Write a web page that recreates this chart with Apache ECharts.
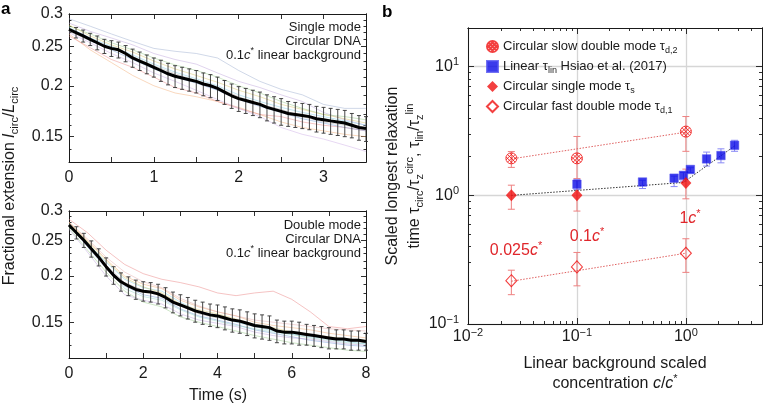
<!DOCTYPE html>
<html><head><meta charset="utf-8">
<script src="https://cdn.jsdelivr.net/npm/echarts@6/dist/echarts.min.js"></script>
<style>html,body{margin:0;padding:0;background:#fff}#c{width:763px;height:405px}</style>
</head><body><div id="c"></div>
<script>
// ================= DATA =================
// ---- Panel a (top): single mode, circular DNA, 0.1c* background ----
const aTopTrajT = [0,0.25,0.5,0.75,1,1.25,1.5,1.75,2,2.25,2.5,2.75,3,3.25,3.5];
const aTopTraj1 = [0.292,0.280,0.268,0.257,0.247,0.243,0.240,0.234,0.218,0.205,0.196,0.190,0.180,0.176,0.176];
const aTopTraj2 = [0.285,0.272,0.262,0.252,0.240,0.232,0.226,0.215,0.205,0.198,0.190,0.183,0.172,0.165,0.160];
const aTopTraj3 = [0.280,0.268,0.255,0.245,0.234,0.225,0.218,0.210,0.200,0.192,0.183,0.176,0.170,0.168,0.165];
const aTopTraj4 = [0.268,0.245,0.228,0.212,0.200,0.192,0.188,0.183,0.177,0.170,0.163,0.158,0.155,0.152,0.150];
const aTopTraj5 = [0.265,0.248,0.232,0.222,0.210,0.198,0.192,0.183,0.176,0.170,0.168,0.163,0.160,0.158,0.155];
const aTopTraj6 = [0.275,0.258,0.245,0.232,0.220,0.210,0.203,0.195,0.185,0.178,0.172,0.166,0.162,0.158,0.155];
const aTopTraj7 = [0.270,0.255,0.240,0.228,0.215,0.205,0.195,0.185,0.176,0.168,0.158,0.152,0.148,0.143,0.138];
const aTopTraj8 = [0.278,0.262,0.250,0.238,0.226,0.216,0.208,0.200,0.190,0.183,0.177,0.172,0.168,0.164,0.160];
const aTopTraj9 = [0.282,0.265,0.252,0.242,0.230,0.220,0.212,0.204,0.195,0.188,0.180,0.175,0.170,0.166,0.162];
const aTopTraj10 = [0.272,0.258,0.247,0.236,0.224,0.214,0.206,0.198,0.188,0.180,0.175,0.168,0.163,0.160,0.157];
const aTopMeanT = [0,0.083,0.167,0.25,0.333,0.417,0.5,0.583,0.667,0.75,0.833,0.917,1,1.083,1.167,1.25,1.333,1.417,1.5,1.583,1.667,1.75,1.833,1.917,2,2.083,2.167,2.25,2.333,2.417,2.5,2.583,2.667,2.75,2.833,2.917,3,3.083,3.167,3.25,3.333,3.417,3.5];
const aTopMean = [0.275,0.270,0.265,0.260,0.255,0.250,0.247,0.245,0.240,0.234,0.230,0.226,0.222,0.218,0.214,0.211,0.209,0.207,0.205,0.202,0.200,0.197,0.193,0.189,0.186,0.184,0.182,0.180,0.177,0.175,0.173,0.171,0.170,0.169,0.168,0.166,0.165,0.164,0.163,0.162,0.160,0.158,0.157];
const aTopErr = [0,0.008,0.009,0.009,0.010,0.010,0.011,0.011,0.011,0.012,0.012,0.012,0.012,
  0.013,0.013,0.013,0.013,0.013,0.013,0.013,0.013,0.013,0.013,0.013,0.013,0.013,0.013,0.013,0.013,0.013,0.013,
  0.012,0.012,0.012,0.012,0.012,0.012,0.012,0.012,0.012,0.011,0.011,0.011];
const aTopXTicks = [0,0.5,1,1.5,2,2.5,3,3.5];
const aTopXLabels = [0,1,2,3];
const aTopYLabels = [0.15,0.2,0.25,0.3];
const aTopYMinor = [0.13,0.14,0.16,0.17,0.18,0.19,0.21,0.22,0.23,0.24,0.26,0.27,0.28,0.29];
const aTopNote = ['Single mode','Circular DNA','0.1{i|c}{sup|*} linear background'];

// ---- Panel a (bottom): double mode ----
const aBotTrajT = [0,0.5,1,1.5,2,2.5,3,3.5,4,4.5,5,5.5,6,6.5,7,7.5,8];
const aBotTraj1 = [0.285,0.262,0.235,0.215,0.203,0.196,0.192,0.187,0.180,0.177,0.180,0.182,0.173,0.160,0.146,0.144,0.146];
const aBotTraj2 = [0.280,0.250,0.222,0.200,0.190,0.185,0.172,0.165,0.160,0.156,0.150,0.147,0.145,0.143,0.140,0.138,0.136];
const aBotTraj3 = [0.270,0.235,0.205,0.182,0.170,0.165,0.155,0.150,0.146,0.142,0.138,0.135,0.132,0.130,0.128,0.126,0.125];
const aBotTraj4 = [0.275,0.240,0.210,0.188,0.178,0.174,0.163,0.156,0.152,0.148,0.143,0.140,0.137,0.134,0.132,0.130,0.129];
const aBotTraj5 = [0.272,0.245,0.218,0.196,0.186,0.182,0.170,0.160,0.155,0.150,0.146,0.142,0.139,0.137,0.135,0.133,0.131];
const aBotTraj6 = [0.268,0.232,0.200,0.178,0.172,0.168,0.158,0.152,0.149,0.146,0.141,0.138,0.136,0.135,0.133,0.131,0.130];
const aBotTraj7 = [0.278,0.248,0.220,0.198,0.187,0.180,0.168,0.162,0.158,0.153,0.148,0.145,0.141,0.139,0.137,0.135,0.134];
const aBotTraj8 = [0.274,0.242,0.214,0.192,0.183,0.178,0.166,0.158,0.154,0.151,0.146,0.143,0.140,0.138,0.136,0.134,0.132];
const aBotTraj9 = [0.276,0.246,0.212,0.185,0.176,0.172,0.162,0.155,0.151,0.147,0.144,0.141,0.139,0.136,0.134,0.132,0.131];
const aBotTraj10 = [0.280,0.252,0.225,0.205,0.193,0.186,0.174,0.166,0.160,0.156,0.152,0.150,0.148,0.146,0.144,0.143,0.142];
const aBotMeanT = [0,0.2,0.4,0.6,0.8,1,1.2,1.4,1.6,1.8,2,2.2,2.4,2.6,2.8,3,3.2,3.4,3.6,3.8,4,4.2,4.4,4.6,4.8,5,5.2,5.4,5.6,5.8,6,6.2,6.4,6.6,6.8,7,7.2,7.4,7.6,7.8,8];
const aBotMean = [0.275,0.262,0.250,0.237,0.225,0.212,0.201,0.193,0.188,0.184,0.182,0.181,0.179,0.175,0.170,0.167,0.164,0.161,0.159,0.157,0.156,0.154,0.152,0.151,0.149,0.147,0.146,0.145,0.142,0.141,0.141,0.140,0.139,0.138,0.137,0.136,0.135,0.135,0.134,0.134,0.133];
const aBotErr = [0,0.010,0.011,0.012,0.012,0.012,
  0.011,0.011,0.011,0.011,0.011,0.011,0.011,0.011,0.011,0.011,0.011,0.011,0.011,0.011,0.011,0.011,0.011,0.011,0.011,0.011,0.011,0.011,
  0.010,0.010,0.010,0.010,0.009,0.009,0.009,0.009,0.008,0.008,0.008,0.008,0.007];
const aBotXTicks = [0,1,2,3,4,5,6,7,8];
const aBotXLabels = [0,2,4,6,8];
const aBotYLabels = [0.15,0.2,0.25,0.3];
const aBotYMinor = [0.12,0.13,0.14,0.16,0.17,0.18,0.19,0.21,0.22,0.23,0.24,0.26,0.27,0.28,0.29];
const aBotNote = ['Double mode','Circular DNA','0.1{i|c}{sup|*} linear background'];

// ---- Panel b ----
const slowX = [0.025,0.1,1];
const slowY = [1.94,1.94,3.13];
const slowLo = [1.65,1.35,2.2];
const slowHi = [2.19,2.87,4.1];
const linX = [0.1,0.4,0.78,0.95,1.1,1.55,2.1,2.8];
const linY = [1.22,1.27,1.36,1.43,1.59,1.92,2.04,2.45];
const linLo = [1.11,1.13,1.17,1.29,1.50,1.69,1.79,2.20];
const linHi = [1.33,1.31,1.41,1.51,1.64,2.17,2.30,2.68];
const singleX = [0.025,0.1,1];
const singleY = [1.0,1.0,1.25];
const singleLo = [0.78,0.755,0.94];
const singleHi = [1.2,1.3,1.6];
const fastX = [0.025,0.1,1];
const fastY = [0.217,0.278,0.355];
const fastLo = [0.169,0.198,0.252];
const fastHi = [0.262,0.36,0.46];
const slowFitX = [0.025,1];
const slowFitY = [1.92,3.1];
const fastFitX = [0.025,1];
const fastFitY = [0.215,0.355];
const linFitX = [0.025,0.95,2.8];
const linFitY = [1.0,1.26,2.42];
const bXLabels = [0.01,0.1,1];
const bXMinor = [0.02,0.03,0.04,0.05,0.06,0.07,0.08,0.09,0.2,0.3,0.4,0.5,0.6,0.7,0.8,0.9,2,3,4];
const bYLabels = [0.1,1,10];
const bYMinor = [0.2,0.3,0.4,0.5,0.6,0.7,0.8,0.9,2,3,4,5,6,7,8,9,20];
const legendNames = ['Circular slow double mode','Linear','Circular single mode','Circular fast double mode'];
const legendTexts = ['Circular slow double mode τ{sub|d,2}','Linear τ{sub|lin} Hsiao et al. (2017)','Circular single mode τ{sub|s}','Circular fast double mode τ{sub|d,1}'];
const concTexts = ['0.025{i|c}{sup|*}','0.1{i|c}{sup|*}','1{i|c}{sup|*}'];

// ================= STYLE / BUILD =================
const FONT = '"Liberation Sans", Arial, Helvetica, sans-serif';
const INK = '#1a1a1a';
const RED = '#f01010';
const RED_TXT = '#e0262b';
const RED_ERR = '#ee8080';
const BLUE = '#0a0ae6';
const BLUE_ERR = '#8a8af5';
const trajColors = ['#9fb0d0','#c0a8dc','#9ccc8c','#f2b07a','#eb8a8a','#7aa2dc','#cfb0e6','#86d0e6','#dccb70','#b0b0b0'];
const botColors = ['#eb8585','#f2b07a','#9ccc8c','#7aa2dc','#86d0e6','#c0a8dc','#dccb70','#b0b0b0','#9ad6cc','#e6b0b0'];

const xAxes = [], yAxes = [];
function addAxis(list, cfg) { list.push(cfg); return list.length - 1; }
function edgeAxis(grid, type, min, max, position, ticks, len, label, split) {
  const cfg = {
    gridIndex: grid, type: type, min: min, max: max, position: position,
    axisLine: {show: true, onZero: false, lineStyle: {color: INK, width: 1}},
    axisTick: {show: true, inside: true, length: len, customValues: ticks, lineStyle: {color: INK, width: 0.9}},
    axisLabel: label ? Object.assign({show: true, color: INK, fontFamily: FONT, fontSize: 16}, label) : {show: false},
    splitLine: split ? split : {show: false},
    minorTick: {show: false}, minorSplitLine: {show: false},
    axisPointer: {show: false}
  };
  if (type === 'log') cfg.logBase = 10;
  return cfg;
}
const fmtA = v => String(Math.round(v * 100) / 100);
const supExp = v => { const e = Math.round(Math.log10(v)); return '10{sup|' + (e < 0 ? '−' + (-e) : String(e)) + '}'; };
const richSup = {sup: {fontSize: 11, fontFamily: FONT, color: INK, padding: [0, 0, 9, 0], lineHeight: 11}};

// panel a top (grid 0)
const a0x = addAxis(xAxes, edgeAxis(0, 'value', 0, 3.5, 'bottom', aTopXTicks, 5, {customValues: aTopXLabels, margin: 8}));
addAxis(xAxes, edgeAxis(0, 'value', 0, 3.5, 'top', aTopXTicks, 5, null));
const a0y = addAxis(yAxes, edgeAxis(0, 'log', 0.13, 0.3, 'left', aTopYLabels, 5, {customValues: aTopYLabels, formatter: fmtA, margin: 6}));
addAxis(yAxes, edgeAxis(0, 'log', 0.13, 0.3, 'left', aTopYMinor, 2.5, null));
addAxis(yAxes, edgeAxis(0, 'log', 0.13, 0.3, 'right', aTopYLabels, 5, null));
addAxis(yAxes, edgeAxis(0, 'log', 0.13, 0.3, 'right', aTopYMinor, 2.5, null));
// panel a bottom (grid 1)
const a1x = addAxis(xAxes, edgeAxis(1, 'value', 0, 8, 'bottom', aBotXTicks, 5, {customValues: aBotXLabels, margin: 8}));
addAxis(xAxes, edgeAxis(1, 'value', 0, 8, 'top', aBotXTicks, 5, null));
const a1y = addAxis(yAxes, edgeAxis(1, 'log', 0.12, 0.3, 'left', aBotYLabels, 5, {customValues: aBotYLabels, formatter: fmtA, margin: 6}));
addAxis(yAxes, edgeAxis(1, 'log', 0.12, 0.3, 'left', aBotYMinor, 2.5, null));
addAxis(yAxes, edgeAxis(1, 'log', 0.12, 0.3, 'right', aBotYLabels, 5, null));
addAxis(yAxes, edgeAxis(1, 'log', 0.12, 0.3, 'right', aBotYMinor, 2.5, null));
// panel b (grid 2)
const gridLine = {show: true, lineStyle: {color: '#d6d6d6', width: 1.3}};
const bx = addAxis(xAxes, edgeAxis(2, 'log', 0.01, 5, 'bottom', bXLabels, 6, {customValues: bXLabels, formatter: supExp, rich: richSup, margin: 5}, gridLine));
addAxis(xAxes, edgeAxis(2, 'log', 0.01, 5, 'bottom', bXMinor, 3, null));
addAxis(xAxes, edgeAxis(2, 'log', 0.01, 5, 'top', bXLabels, 6, null));
addAxis(xAxes, edgeAxis(2, 'log', 0.01, 5, 'top', bXMinor, 3, null));
const by = addAxis(yAxes, edgeAxis(2, 'log', 0.1, 20, 'left', bYLabels, 6, {customValues: bYLabels, formatter: supExp, rich: richSup, margin: 9}, gridLine));
addAxis(yAxes, edgeAxis(2, 'log', 0.1, 20, 'left', bYMinor, 3, null));
addAxis(yAxes, edgeAxis(2, 'log', 0.1, 20, 'right', bYLabels, 6, null));
addAxis(yAxes, edgeAxis(2, 'log', 0.1, 20, 'right', bYMinor, 3, null));

function zip(xs, ys) { const n = Math.min(xs.length, ys.length); const out = []; for (let i = 0; i < n; i++) out.push([xs[i], ys[i]]); return out; }
function errRender(cap, color, lw) {
  return function (params, api) {
    const x = api.value(0), lo = api.value(1), hi = api.value(2);
    if (!(hi > lo)) return null;
    const p1 = api.coord([x, lo]), p2 = api.coord([x, hi]);
    const st = {stroke: color, lineWidth: lw, fill: null};
    return {type: 'group', children: [
      {type: 'line', shape: {x1: p1[0], y1: p1[1], x2: p2[0], y2: p2[1]}, style: st},
      {type: 'line', shape: {x1: p1[0] - cap, y1: p1[1], x2: p1[0] + cap, y2: p1[1]}, style: st},
      {type: 'line', shape: {x1: p2[0] - cap, y1: p2[1], x2: p2[0] + cap, y2: p2[1]}, style: st}
    ]};
  };
}
function errSeries(xi, yi, data, cap, color, lw, z) {
  return {type: 'custom', xAxisIndex: xi, yAxisIndex: yi, renderItem: errRender(cap, color, lw), data: data,
    encode: {x: 0, y: [1, 2]}, silent: true, z: z, clip: false};
}
function meanErrData(ts, ms, es) { const out = []; const n = Math.min(ts.length, ms.length, es.length);
  for (let i = 0; i < n; i++) out.push([ts[i], ms[i] - es[i], ms[i] + es[i]]); return out; }
function loHiData(xs, lo, hi) { const out = []; for (let i = 0; i < xs.length; i++) out.push([xs[i], lo[i], hi[i]]); return out; }

const series = [];
const topTrajs = [aTopTraj1,aTopTraj2,aTopTraj3,aTopTraj4,aTopTraj5,aTopTraj6,aTopTraj7,aTopTraj8,aTopTraj9,aTopTraj10];
const botTrajs = [aBotTraj1,aBotTraj2,aBotTraj3,aBotTraj4,aBotTraj5,aBotTraj6,aBotTraj7,aBotTraj8,aBotTraj9,aBotTraj10];
topTrajs.forEach((tr, i) => series.push({type: 'line', xAxisIndex: a0x, yAxisIndex: a0y, data: zip(aTopTrajT, tr),
  showSymbol: false, symbol: 'none', silent: true, lineStyle: {color: trajColors[i], width: 0.7, opacity: 0.7}, z: 1}));
botTrajs.forEach((tr, i) => series.push({type: 'line', xAxisIndex: a1x, yAxisIndex: a1y, data: zip(aBotTrajT, tr),
  showSymbol: false, symbol: 'none', silent: true, lineStyle: {color: botColors[i], width: 0.7, opacity: 0.7}, z: 1}));
series.push(errSeries(a0x, a0y, meanErrData(aTopMeanT, aTopMean, aTopErr), 2, '#333', 0.9, 2));
series.push(errSeries(a1x, a1y, meanErrData(aBotMeanT, aBotMean, aBotErr), 2, '#333', 0.9, 2));
series.push({type: 'line', xAxisIndex: a0x, yAxisIndex: a0y, data: zip(aTopMeanT, aTopMean), showSymbol: false, symbol: 'none',
  silent: true, lineStyle: {color: '#000', width: 3}, z: 3});
series.push({type: 'line', xAxisIndex: a1x, yAxisIndex: a1y, data: zip(aBotMeanT, aBotMean), showSymbol: false, symbol: 'none',
  silent: true, lineStyle: {color: '#000', width: 3}, z: 3});

// panel b
series.push(errSeries(bx, by, loHiData(slowX, slowLo, slowHi), 3.5, RED_ERR, 1, 2));
series.push(errSeries(bx, by, loHiData(singleX, singleLo, singleHi), 3.5, RED_ERR, 1, 2));
series.push(errSeries(bx, by, loHiData(fastX, fastLo, fastHi), 3.5, RED_ERR, 1, 2));
series.push(errSeries(bx, by, loHiData(linX, linLo, linHi), 3.5, BLUE_ERR, 1, 2));
const fitLine = (xs, ys, c) => ({type: 'line', xAxisIndex: bx, yAxisIndex: by, data: zip(xs, ys), showSymbol: false, symbol: 'none',
  silent: true, lineStyle: {color: c, width: 1, type: [1.5, 1.5]}, z: 3});
series.push(fitLine(slowFitX, slowFitY, '#e06060'));
series.push(fitLine(fastFitX, fastFitY, '#e06060'));
series.push(fitLine(linFitX, linFitY, '#333'));
const crossCircle = 'path://M-1,0A1,1 0 1,0 1,0A1,1 0 1,0 -1,0Z' +
  'M-0.707,-0.707L0.707,0.707M-0.707,0.707L0.707,-0.707' +
  'M0.964,0.264L-0.264,-0.964M0.264,0.964L-0.964,-0.264' +
  'M0.964,-0.264L-0.264,0.964M0.264,-0.964L-0.964,0.264';
series.push({name: legendNames[0], type: 'scatter', xAxisIndex: bx, yAxisIndex: by, data: zip(slowX, slowY),
  symbol: crossCircle, symbolSize: 11, itemStyle: {color: 'rgba(255,255,255,0)', borderColor: RED, borderWidth: 1}, z: 5});
series.push({name: legendNames[1], type: 'scatter', xAxisIndex: bx, yAxisIndex: by, data: zip(linX, linY),
  symbol: 'rect', symbolSize: 8.5, itemStyle: {color: BLUE, borderColor: '#5050f0', borderWidth: 0.6}, z: 5});
series.push({name: legendNames[2], type: 'scatter', xAxisIndex: bx, yAxisIndex: by, data: zip(singleX, singleY),
  symbol: 'diamond', symbolSize: [11, 12], itemStyle: {color: RED}, z: 5});
series.push({name: legendNames[3], type: 'scatter', xAxisIndex: bx, yAxisIndex: by, data: zip(fastX, fastY),
  symbol: 'diamond', symbolSize: [11, 12], itemStyle: {color: 'rgba(255,255,255,0)', borderColor: RED, borderWidth: 1.1}, z: 5});

// ---------- texts ----------
const richG = (size, color) => ({
  i: {fontStyle: 'italic', fontSize: size, fontFamily: FONT, fill: color},
  sub: {fontSize: Math.round(size * 0.68), fontFamily: FONT, fill: color, padding: [Math.round(size * 0.6), 0, 0, 0], lineHeight: Math.round(size * 0.7)},
  sup: {fontSize: Math.round(size * 0.68), fontFamily: FONT, fill: color, padding: [0, 0, Math.round(size * 0.6), 0], lineHeight: Math.round(size * 0.7)}
});
function txt(text, x, y, size, color, align, extra) {
  return Object.assign({type: 'text', x: x, y: y, silent: true, z: 50,
    style: {text: text, fontSize: size, fontFamily: FONT, fill: color, align: align, textAlign: align,
      verticalAlign: 'middle', textVerticalAlign: 'middle', rich: richG(size, color)}}, extra || {});
}
const graphics = [];
graphics.push(txt('a', 1, 9, 17, '#000', 'left', {style: {text: 'a', fontSize: 17, fontWeight: 'bold', fontFamily: FONT, fill: '#000', verticalAlign: 'middle', textVerticalAlign: 'middle'}}));
graphics.push(txt('b', 382, 12, 17, '#000', 'left', {style: {text: 'b', fontSize: 17, fontWeight: 'bold', fontFamily: FONT, fill: '#000', verticalAlign: 'middle', textVerticalAlign: 'middle'}}));
const noteYTop = [27, 41, 55], noteYBot = [225, 239, 253];
aTopNote.forEach((t, i) => graphics.push(txt(t, 361, noteYTop[i], 13, INK, 'right')));
aBotNote.forEach((t, i) => graphics.push(txt(t, 361, noteYBot[i], 13, INK, 'right')));
graphics.push(txt('Time (s)', 218, 396, 16, INK, 'center'));
graphics.push(txt('Fractional extension {i|l}{sub|circ}/{i|L}{sub|circ}', 10, 186, 16, INK, 'center', {rotation: Math.PI / 2}));
graphics.push(txt('Scaled longest relaxation', 393, 176, 16, INK, 'center', {rotation: Math.PI / 2}));
graphics.push(txt('time τ{sub|circ}/τ{sub|z}{sup|circ}, τ{sub|lin}/τ{sub|z}{sup|lin}', 415, 176, 16, INK, 'center', {rotation: Math.PI / 2}));
graphics.push(txt('Linear background scaled', 615, 364, 16, INK, 'center'));
graphics.push(txt('concentration {i|c}/{i|c}{sup|*}', 615, 384, 16, INK, 'center'));
const concPos = [[516, 251], [587, 237], [690, 219]];
concTexts.forEach((t, i) => graphics.push(txt(t, concPos[i][0], concPos[i][1], 16, RED_TXT, 'center')));

const chart = echarts.init(document.getElementById('c'), null, {renderer: 'canvas'});
chart.setOption({
  animation: false,
  backgroundColor: '#fff',
  textStyle: {fontFamily: FONT},
  grid: [
    {left: 69, top: 14, width: 297, height: 148, outerBoundsMode: 'none', containLabel: false},
    {left: 69, top: 211, width: 297, height: 147, outerBoundsMode: 'none', containLabel: false},
    {left: 468, top: 28, width: 294, height: 296, outerBoundsMode: 'none', containLabel: false}
  ],
  xAxis: xAxes,
  yAxis: yAxes,
  legend: {
    data: legendNames, orient: 'vertical', left: 486, top: 38, padding: 0, itemGap: 3,
    itemWidth: 11, itemHeight: 11, selectedMode: false,
    formatter: n => legendTexts[legendNames.indexOf(n)],
    textStyle: {fontSize: 13, color: INK, fontFamily: FONT,
      rich: {sub: {fontSize: 9, color: INK, fontFamily: FONT, padding: [8, 0, 0, 0], lineHeight: 9}}}
  },
  series: series,
  graphic: graphics
});
</script></body></html>
